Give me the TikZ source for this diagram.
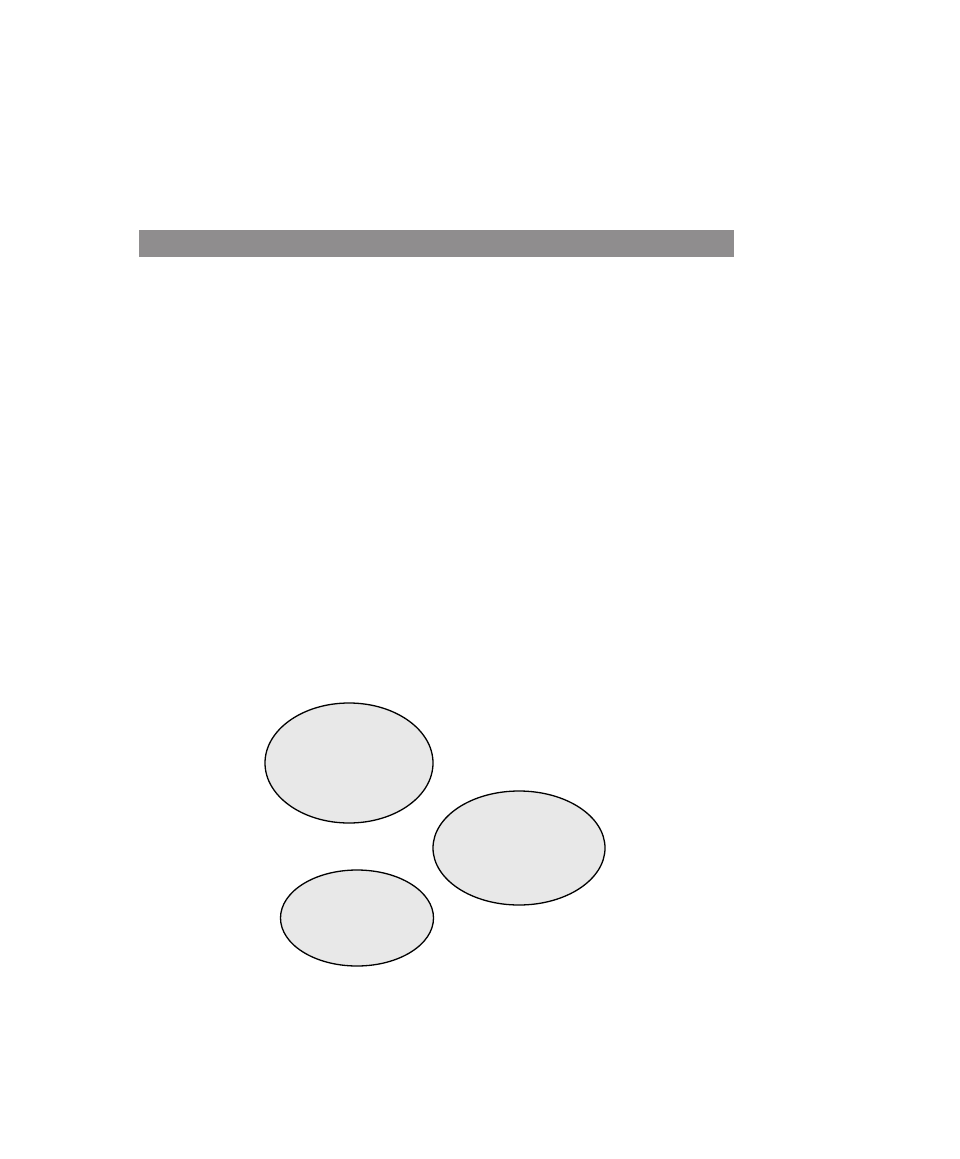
\documentclass[tikz,border=0pt]{standalone}
\usetikzlibrary{shapes.geometric}
\definecolor{bargrey}{HTML}{8F8D8E}
\definecolor{blobfill}{HTML}{E8E8E8}
\tikzset{
  blob/.style={ellipse, draw=black, fill=blobfill, line width=1.3pt, inner sep=0pt, outer sep=0pt},
  topbar/.style={rectangle, fill=bargrey, draw=none, inner sep=0pt, outer sep=0pt}
}
\begin{document}
\begin{tikzpicture}[x=1pt,y=-1pt]
\useasboundingbox (0,0) rectangle (959,1159);
\node[topbar, minimum width=595pt, minimum height=27pt] (bar) at (436.5,243.5) {};
\node[blob, minimum width=168pt, minimum height=120pt] (e1) at (349,763) {};
\node[blob, minimum width=172pt, minimum height=114pt] (e2) at (519,848) {};
\node[blob, minimum width=153pt, minimum height=96pt] (e3) at (357,918) {};
\end{tikzpicture}
\end{document}
